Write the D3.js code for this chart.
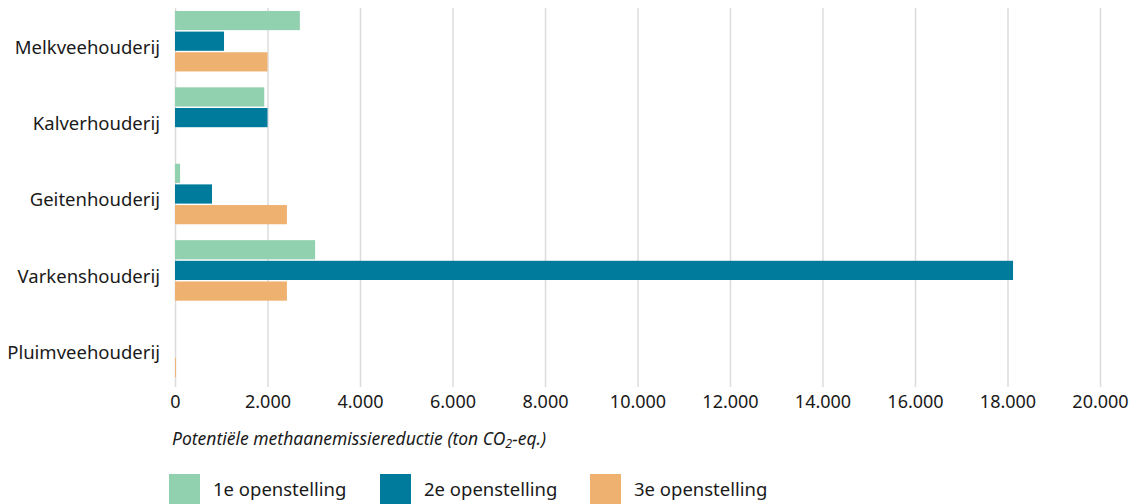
<html>
<head>
<meta charset="utf-8">
<script src="https://cdn.jsdelivr.net/npm/d3@7"></script>
<style>
  body { margin: 0; background: #fff; }
  text { font-family: "Noto Sans", sans-serif; fill: #1a1a1a; }
</style>
</head>
<body>
<script>
  // data
  var categories = ["Melkveehouderij", "Kalverhouderij", "Geitenhouderij", "Varkenshouderij", "Pluimveehouderij"];
  var series = ["1e openstelling", "2e openstelling", "3e openstelling"];
  var eerste = [2700, 1930, 110, 3030, 0];
  var tweede = [1060, 2000, 800, 18120, 0];
  var derde = [2000, 0, 2420, 2420, 20];
  var ticks = [0, 2000, 4000, 6000, 8000, 10000, 12000, 14000, 16000, 18000, 20000];
  var colors = ["#92d1b0", "#007b9c", "#eeb170"];

  var values = [eerste, tweede, derde];

  var width = 1139, height = 504;
  var svg = d3.select("body").append("svg")
    .attr("width", width)
    .attr("height", height);

  var nl = d3.formatLocale({ decimal: ",", thousands: ".", grouping: [3], currency: ["€", ""] });

  var x = d3.scaleLinear().domain([0, 20000]).range([175, 1100]);

  var y0 = d3.scaleBand().domain(categories)
    .range([3, 385])
    .paddingInner(0.208)
    .paddingOuter(0.104);

  var y1 = d3.scaleBand().domain(series)
    .range([0, y0.bandwidth()])
    .paddingInner(0.07);

  // gridlines + tick labels
  var axis = svg.append("g")
    .attr("transform", "translate(0,387)")
    .call(d3.axisBottom(x).tickValues(ticks).tickFormat(nl.format(",d")).tickSizeInner(-379).tickSizeOuter(0).tickPadding(8));
  axis.select(".domain").remove();
  axis.selectAll(".tick line").attr("stroke", "#dcdcdc").attr("stroke-width", 1.5);
  axis.selectAll(".tick text")
    .style("font-family", "'Noto Sans', sans-serif")
    .style("font-size", "18px")
    .attr("fill", "#1a1a1a");

  // bars
  var groups = svg.append("g").selectAll("g")
    .data(categories)
    .enter().append("g")
    .attr("transform", function (d) { return "translate(0," + y0(d) + ")"; });

  groups.selectAll("rect")
    .data(function (d, i) { return series.map(function (s, j) { return { s: s, v: values[j][i], c: colors[j] }; }); })
    .enter().append("rect")
    .attr("x", x(0))
    .attr("y", function (d) { return y1(d.s); })
    .attr("height", y1.bandwidth())
    .attr("width", function (d) { return x(d.v) - x(0); })
    .attr("fill", function (d) { return d.c; });

  // category labels
  svg.append("g").selectAll("text")
    .data(categories)
    .enter().append("text")
    .attr("x", 160)
    .attr("y", function (d) { return y0(d) + y0.bandwidth() / 2 + 6; })
    .attr("dy", "0.35em")
    .attr("text-anchor", "end")
    .style("font-size", "18.5px")
    .text(function (d) { return d; });

  // axis title
  var title = svg.append("text")
    .attr("x", 172)
    .attr("y", 445)
    .style("font-size", "17.5px")
    .style("font-style", "italic");
  title.append("tspan").text("Potentiële methaanemissiereductie (ton CO");
  title.append("tspan").attr("dy", 3).style("font-size", "12.5px").text("2");
  title.append("tspan").attr("dy", -3).text("-eq.)");

  // legend
  var legendX = [169, 380, 590];
  var legend = svg.append("g").selectAll("g")
    .data(series)
    .enter().append("g")
    .attr("transform", function (d, i) { return "translate(" + legendX[i] + ",474)"; });
  legend.append("rect")
    .attr("width", 31).attr("height", 30)
    .attr("fill", function (d, i) { return colors[i]; });
  legend.append("text")
    .attr("x", 44).attr("y", 16)
    .attr("dy", "0.35em")
    .style("font-size", "18.5px")
    .text(function (d) { return d; });
</script>
</body>
</html>
